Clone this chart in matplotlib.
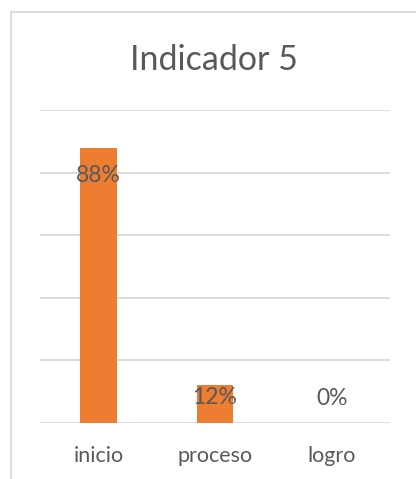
import matplotlib
matplotlib.use("Agg")
import matplotlib.pyplot as plt
from matplotlib.lines import Line2D

# data
categories = ["inicio", "proceso", "logro"]
values = [0.88, 0.12, 0.0]
value_labels = ["88%", "12%", "0%"]

bar_color = "#ED7D31"
text_color = "#595959"
grid_color = "#D9D9D9"

plt.rcParams['font.family'] = ['Lato', 'DejaVu Sans']

W, H = 416, 479
fig = plt.figure(figsize=(W/100, H/100), dpi=100)
ax = fig.add_axes([40/W, 1-422.7/H, 350/W, 312.7/H])

x = list(range(len(categories)))
ax.bar(x, values, width=0.314, color=bar_color, zorder=2)
ax.set_xlim(-0.5, len(categories)-0.5)
ax.set_ylim(0, 1.0)
ax.set_yticks([0, 0.2, 0.4, 0.6, 0.8, 1.0])
ax.yaxis.grid(True, color=grid_color, linewidth=1.3, zorder=0)
ax.tick_params(left=False, bottom=False, labelleft=False)
for s in ax.spines.values():
    s.set_visible(False)
ax.set_xticks(x)
ax.set_xticklabels([])

# category labels
lbl_y = -(462-422.7)/312.7
for xi, c in zip(x, categories):
    ax.text(xi, lbl_y, c, transform=ax.get_xaxis_transform(), ha='center', va='baseline',
            fontsize=15.5, color=text_color)

# value labels (offsets in pixels from bar top)
label_offsets = [-28, -12, 24]
for xi, v, lbl, off in zip(x, values, value_labels, label_offsets):
    ax.annotate(lbl, (xi, v), xytext=(0, off*0.72), textcoords='offset points',
                ha='center', va='center', fontsize=16.5, color=text_color, zorder=3)

fig.text(214/W, 1-70/H, "Indicador 5", ha='center', va='baseline',
         fontsize=24.5, color=text_color)

# chart frame (cropped on right and bottom)
fig.add_artist(Line2D([10.5/W, 10.5/W], [0, 1-11.5/H], color=grid_color, linewidth=1.3))
fig.add_artist(Line2D([10.5/W, 1], [1-11.5/H, 1-11.5/H], color=grid_color, linewidth=1.3))

fig.savefig("out.png", dpi=100)
